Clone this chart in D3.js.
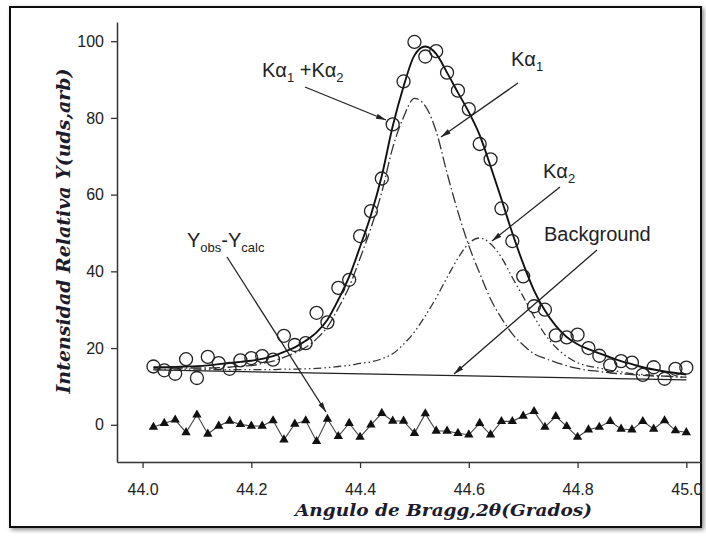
<!DOCTYPE html>
<html>
<head>
<meta charset="utf-8">
<script src="https://cdn.jsdelivr.net/npm/d3@7"></script>
<style>
  html, body { margin: 0; padding: 0; background: #fff; }
  svg { display: block; }
</style>
</head>
<body>
<svg id="chart" width="706" height="536"></svg>
<script>
// Bragg angle of every measured step (2θ, degrees)
const angles = [44.02,44.04,44.06,44.08,44.10,44.12,44.14,44.16,44.18,44.20,
                44.22,44.24,44.26,44.28,44.30,44.32,44.34,44.36,44.38,44.40,
                44.42,44.44,44.46,44.48,44.50,44.52,44.54,44.56,44.58,44.60,
                44.62,44.64,44.66,44.68,44.70,44.72,44.74,44.76,44.78,44.80,
                44.82,44.84,44.86,44.88,44.90,44.92,44.94,44.96,44.98,45.00];

// Observed intensity (open circles)
const observed = [15.2,14.2,13.3,17.1,12.2,17.7,16.1,14.6,16.8,17.4,
                  17.9,17.0,23.2,20.8,21.3,29.2,26.7,35.7,37.8,49.2,
                  55.7,64.2,78.3,89.5,99.8,96.0,97.4,91.8,87.1,82.3,
                  73.2,69.2,56.4,47.9,38.7,30.9,30.0,23.3,22.8,23.5,
                  20.0,18.0,15.5,16.6,16.2,13.0,15.0,12.0,14.6,14.9];

// Fitted profile Kα1 + Kα2 (solid line)
const fitTotal = [15.0,15.0,15.1,15.2,15.3,15.5,15.8,16.1,16.4,16.7,
                  17.2,17.9,19.0,20.2,21.9,24.1,27.4,32.6,38.6,46.4,
                  54.7,64.9,77.8,88.2,96.3,98.6,96.7,91.8,86.6,81.5,
                  75.5,67.4,58.8,50.0,42.0,35.0,29.8,25.8,22.9,21.0,
                  19.7,18.6,17.6,16.6,15.8,15.0,14.4,13.9,13.5,13.1];

// Kα1 component (dash-dot)
const kAlpha1 = [14.9,14.9,14.8,14.8,14.8,14.8,14.9,15.0,15.3,15.4,
                 16.0,16.6,17.6,18.7,20.2,22.4,25.5,30.4,36.0,43.4,
                 51.3,60.7,72.2,80.2,85.1,83.1,76.5,65.6,55.5,46.7,
                 39.5,32.8,27.8,23.7,20.8,18.5,17.3,16.3,15.4,14.7,
                 14.2,13.9,13.5,13.3,13.1,12.9,12.7,12.7,12.5,12.4];

// Kα2 component (dash-dot-dot)
const kAlpha2 = [14.6,14.5,14.5,14.5,14.5,14.4,14.4,14.4,14.4,14.4,
                 14.4,14.4,14.5,14.5,14.6,14.7,14.9,15.2,15.5,16.0,
                 16.4,17.2,18.5,21.0,24.2,28.4,33.1,38.4,43.4,47.3,
                 48.7,47.2,43.6,38.4,33.4,28.2,23.6,20.2,17.8,16.2,
                 15.3,14.8,14.2,13.8,13.3,13.1,12.9,12.7,12.5,12.4];

// Linear background
const bgAngles = [44.02, 45.00];
const bgLevel  = [14.3, 11.7];

// Yobs - Ycalc difference (filled triangles)
const residuals = [-0.6,0.4,1.3,-2.0,2.6,-2.4,-0.3,1.0,0.1,-0.3,
                   -0.3,1.1,-3.9,0.2,1.1,-4.3,1.5,-3.0,0.4,-3.2,
                   0.0,3.0,1.0,1.0,-2.2,2.9,-1.6,-1.6,-2.2,-2.6,
                   0.4,-2.6,0.9,0.9,2.3,3.5,-0.6,2.2,-0.4,-3.2,
                   -1.3,-0.6,0.9,-1.1,-1.3,0.9,-1.1,1.1,-1.5,-2.0];

const xTicks = [44.0, 44.2, 44.4, 44.6, 44.8, 45.0];
const yTicks = [0, 20, 40, 60, 80, 100];

const svg = d3.select("#chart");

// Framed panel with a soft shadow
const defs = svg.append("defs");
const shadow = defs.append("filter").attr("id", "frameShadow")
  .attr("x", "-5%").attr("y", "-5%").attr("width", "110%").attr("height", "110%");
shadow.append("feDropShadow").attr("dx", 2).attr("dy", 2)
  .attr("stdDeviation", 2).attr("flood-color", "#000").attr("flood-opacity", 0.45);

defs.append("marker").attr("id", "arrow")
  .attr("viewBox", "0 0 10 6").attr("refX", 10).attr("refY", 3)
  .attr("markerWidth", 10).attr("markerHeight", 6)
  .attr("markerUnits", "userSpaceOnUse").attr("orient", "auto")
  .append("path").attr("d", "M0,0.4 L10,3 L0,5.6 Z").attr("fill", "#222");

svg.append("rect")
  .attr("x", 10).attr("y", 7).attr("width", 691).attr("height", 520)
  .attr("fill", "#fff").attr("stroke", "#111").attr("stroke-width", 2)
  .attr("filter", "url(#frameShadow)");

// Scales
const x = d3.scaleLinear().domain([43.953, 45.027]).range([117, 701]);
const y = d3.scaleLinear().domain([-9.7, 105.0]).range([462, 22]);

// Axes
const xAxis = d3.axisBottom(x).tickValues(xTicks).tickFormat(d3.format(".1f"))
  .tickSizeInner(6).tickSizeOuter(0).tickPadding(16);
const yAxis = d3.axisLeft(y).tickValues(yTicks).tickFormat(d3.format("d"))
  .tickSizeInner(6).tickSizeOuter(0).tickPadding(7);

const gx = svg.append("g").attr("transform", `translate(0,${y(-9.7)})`).call(xAxis);
const gy = svg.append("g").attr("transform", `translate(${x(43.953)},0)`).call(yAxis);
[gx, gy].forEach(g => {
  g.select(".domain").attr("stroke", "#333").attr("stroke-width", 1.5);
  g.selectAll(".tick line").attr("stroke", "#333").attr("stroke-width", 1.3);
  g.selectAll(".tick text")
    .attr("fill", "#222")
    .style("font-family", "'Liberation Sans', Arial, sans-serif")
    .style("font-size", "16px");
});

// Axis titles
const titleColor = "#1c1c2c";
svg.append("text")
  .attr("x", 443.5).attr("y", 516)
  .attr("text-anchor", "middle")
  .attr("textLength", 297).attr("lengthAdjust", "spacingAndGlyphs")
  .attr("fill", titleColor)
  .style("font-family", "'DejaVu Serif', serif")
  .style("font-style", "italic").style("font-weight", "bold")
  .style("font-size", "17px")
  .text("Angulo de Bragg,2θ(Grados)");

svg.append("text")
  .attr("transform", "translate(70,231) rotate(-90)")
  .attr("text-anchor", "middle")
  .attr("textLength", 325).attr("lengthAdjust", "spacingAndGlyphs")
  .attr("fill", titleColor)
  .style("font-family", "'DejaVu Serif', serif")
  .style("font-style", "italic").style("font-weight", "bold")
  .style("font-size", "19px")
  .text("Intensidad Relativa Y(uds,arb)");

// Curves
const curveLine = vals => d3.line()
  .x((d, i) => x(angles[i]))
  .y(d => y(d))
  .curve(d3.curveMonotoneX)(vals);

svg.append("path").attr("d", d3.line().x((d, i) => x(bgAngles[i])).y(d => y(d))(bgLevel))
  .attr("fill", "none").attr("stroke", "#222").attr("stroke-width", 1.3);

svg.append("path").attr("d", curveLine(kAlpha2))
  .attr("fill", "none").attr("stroke", "#333").attr("stroke-width", 1.3)
  .attr("stroke-dasharray", "8,3,1.5,3,1.5,3");

svg.append("path").attr("d", curveLine(kAlpha1))
  .attr("fill", "none").attr("stroke", "#333").attr("stroke-width", 1.3)
  .attr("stroke-dasharray", "11,3,1.5,3");

svg.append("path").attr("d", curveLine(fitTotal))
  .attr("fill", "none").attr("stroke", "#111").attr("stroke-width", 1.9);

// Observed points
svg.append("g").selectAll("circle").data(observed).join("circle")
  .attr("cx", (d, i) => x(angles[i]))
  .attr("cy", d => y(d))
  .attr("r", 6.5)
  .attr("fill", "none").attr("stroke", "#222").attr("stroke-width", 1.3);

// Difference curve
svg.append("path")
  .attr("d", d3.line().x((d, i) => x(angles[i])).y(d => y(d))(residuals))
  .attr("fill", "none").attr("stroke", "#444").attr("stroke-width", 1.1);

svg.append("g").selectAll("path").data(residuals).join("path")
  .attr("transform", (d, i) => `translate(${x(angles[i])},${y(d)})`)
  .attr("d", d3.symbol(d3.symbolTriangle).size(38))
  .attr("fill", "#111");

// Annotations
const labelFont = "'Liberation Sans', Arial, sans-serif";
function label(xp, yp, parts) {
  const t = svg.append("text").attr("x", xp).attr("y", yp)
    .attr("fill", "#222").style("font-family", labelFont).style("font-size", "20px");
  parts.forEach(p => {
    const s = t.append("tspan").text(p.t);
    if (p.sub) s.attr("dy", 5).style("font-size", "13px");
    if (p.up) s.attr("dy", -5);
  });
}

label(262, 77, [{t: "Kα"}, {t: "1", sub: true}, {t: " +Kα", up: true}, {t: "2", sub: true}]);
label(511, 66, [{t: "Kα"}, {t: "1", sub: true}]);
label(543, 178, [{t: "Kα"}, {t: "2", sub: true}]);
label(544, 241, [{t: "Background"}]);
label(187, 247, [{t: "Y"}, {t: "obs", sub: true}, {t: "-Y", up: true}, {t: "calc", sub: true}]);

const arrows = [
  [305, 87, 386, 120],
  [518, 83, 441, 137],
  [560, 187, 492, 241],
  [597, 250, 454, 374],
  [227, 257, 326, 412]
];
svg.append("g").selectAll("line").data(arrows).join("line")
  .attr("x1", d => d[0]).attr("y1", d => d[1])
  .attr("x2", d => d[2]).attr("y2", d => d[3])
  .attr("stroke", "#222").attr("stroke-width", 1.3)
  .attr("marker-end", "url(#arrow)");
</script>
</body>
</html>
